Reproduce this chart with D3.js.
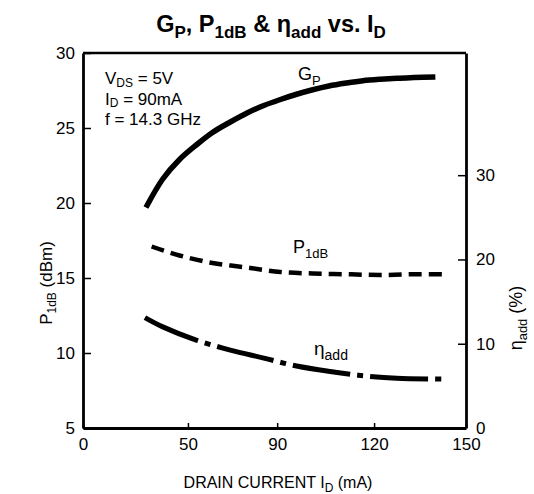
<!DOCTYPE html>
<html>
<head>
<meta charset="utf-8">
<script src="https://cdn.jsdelivr.net/npm/d3@7"></script>
<style>
  body { margin: 0; background: #fff; }
  text { font-family: "Liberation Sans", Arial, Helvetica, sans-serif; fill: #000; }
</style>
</head>
<body>
<svg id="chart"></svg>
<script>
// values
var gpCurrent = [30, 38, 46, 54, 61, 69, 76.5, 84, 91, 96, 101, 106, 111.5, 116.5, 122, 127.5, 133, 140];
var gpValues = [19.7, 21.6, 22.9, 23.9, 24.7, 25.4, 26.0, 26.5, 26.9, 27.25, 27.55, 27.8, 28.0, 28.15, 28.25, 28.32, 28.36, 28.4];

var p1dbCurrent = [32.7, 46, 61, 76.4, 91, 101, 111.5, 122, 132.7, 144];
var p1dbValues = [17.1, 16.5, 16.0, 15.7, 15.4, 15.3, 15.25, 15.2, 15.25, 15.25];

var etaCurrent = [29.5, 38, 54, 69, 84, 96, 106.4, 116.7, 127.4, 142];
var etaValues = [13.1, 12.0, 10.4, 9.25, 8.3, 7.35, 6.7, 6.2, 5.9, 5.8];

var xTicks = [0, 50, 90, 120, 150];
var leftTicks = [5, 10, 15, 20, 25, 30];
var rightTicks = [0, 10, 20, 30];
var conditions = [
    [['V', false], ['DS', true], [' = 5V', false]],
    [['I', false], ['D', true], [' = 90mA', false]],
    [['f = 14.3 GHz', false]]
];

var margin = { top: 53, right: 68, bottom: 66, left: 83 },
    width = 534 - margin.left - margin.right,
    height = 494 - margin.top - margin.bottom;

// the printed x axis has uneven tick spacing, keep it
var xTickPos = [0, 0.274, 0.507, 0.76, 1];

var x = d3.scaleLinear()
    .domain(xTicks)
    .range(xTickPos.map(function (f) { return f * width; }));

var yLeft = d3.scaleLinear().domain([5, 30]).range([height, 0]);
var yRight = d3.scaleLinear().domain([0, 44.5]).range([height, 0]);

var svg = d3.select('#chart')
    .attr('width', 534)
    .attr('height', 494);

var g = svg.append('g')
    .attr('transform', 'translate(' + margin.left + ',' + margin.top + ')');

// text with subscripts
function richText(sel, parts, size, drop) {
    drop = drop || 0.25;
    parts.forEach(function (p, i) {
        var prev = i > 0 && parts[i - 1][1];
        var t = sel.append('tspan').text(p[0]);
        if (p[1]) {
            t.attr('font-size', Math.round(size * 0.72)).attr('dy', size * drop);
        } else {
            t.attr('font-size', size);
            if (prev) t.attr('dy', -size * drop);
        }
    });
    return sel;
}

// axes
var axisLeft = d3.axisLeft(yLeft).tickValues(leftTicks).tickSize(-8).tickSizeOuter(0).tickPadding(8);
var axisRight = d3.axisRight(yRight).tickValues(rightTicks).tickSize(-8).tickSizeOuter(0).tickPadding(10);
var axisBottom = d3.axisBottom(x).tickValues(xTicks).tickSize(-5).tickSizeOuter(0).tickPadding(10);

var gl = g.append('g').call(axisLeft);
var gr = g.append('g').attr('transform', 'translate(' + width + ',0)').call(axisRight);
var gb = g.append('g').attr('transform', 'translate(0,' + height + ')').call(axisBottom);

[gl, gr, gb].forEach(function (a) {
    a.select('.domain').attr('stroke', '#000').attr('stroke-width', 2.8);
    a.selectAll('.tick line').attr('stroke', '#000').attr('stroke-width', 1.5);
    a.selectAll('.tick text').attr('font-size', 17).attr('font-family', '"Liberation Sans", Arial, sans-serif').attr('fill', '#000');
});

g.append('line')
    .attr('x1', 0).attr('x2', width)
    .attr('y1', 0).attr('y2', 0)
    .attr('stroke', '#000').attr('stroke-width', 2.5);

// curves
function curve(xs, ys, yScale) {
    return d3.line()
        .x(function (d, i) { return x(xs[i]); })
        .y(function (d) { return yScale(d); })
        .curve(d3.curveCatmullRom)(ys);
}

g.append('path')
    .attr('d', curve(gpCurrent, gpValues, yLeft))
    .attr('fill', 'none').attr('stroke', '#000').attr('stroke-width', 5.5);

g.append('path')
    .attr('d', curve(p1dbCurrent, p1dbValues, yLeft))
    .attr('fill', 'none').attr('stroke', '#000').attr('stroke-width', 4.5)
    .attr('stroke-dasharray', '13,7');

g.append('path')
    .attr('d', curve(etaCurrent, etaValues, yRight))
    .attr('fill', 'none').attr('stroke', '#000').attr('stroke-width', 5)
    .attr('stroke-dasharray', '58,7,6,7');

// curve labels
richText(svg.append('text').attr('x', 298).attr('y', 80), [['G', false], ['P', true]], 18);
richText(svg.append('text').attr('x', 293).attr('y', 253), [['P', false], ['1dB', true]], 18);
richText(svg.append('text').attr('x', 314).attr('y', 355), [['η', false], ['add', true]], 19);

// operating conditions
conditions.forEach(function (line, i) {
    richText(svg.append('text').attr('x', 105).attr('y', 84 + i * 20.5), line, 17, 0.15);
});

// title
richText(svg.append('text')
    .attr('x', 271).attr('y', 32)
    .attr('text-anchor', 'middle')
    .attr('font-weight', 'bold'),
    [['G', false], ['P', true], [', P', false], ['1dB', true], [' & η', false], ['add', true], [' vs. I', false], ['D', true]], 23.5);

// axis titles
richText(svg.append('text')
    .attr('x', 278).attr('y', 488)
    .attr('text-anchor', 'middle'),
    [['DRAIN CURRENT I', false], ['D', true], [' (mA)', false]], 16);

richText(svg.append('text')
    .attr('transform', 'translate(52,283) rotate(-90)')
    .attr('text-anchor', 'middle'),
    [['P', false], ['1dB', true], [' (dBm)', false]], 17);

richText(svg.append('text')
    .attr('transform', 'translate(522,318) rotate(-90)')
    .attr('text-anchor', 'middle'),
    [['η', false], ['add', true], [' (%)', false]], 18);
</script>
</body>
</html>
